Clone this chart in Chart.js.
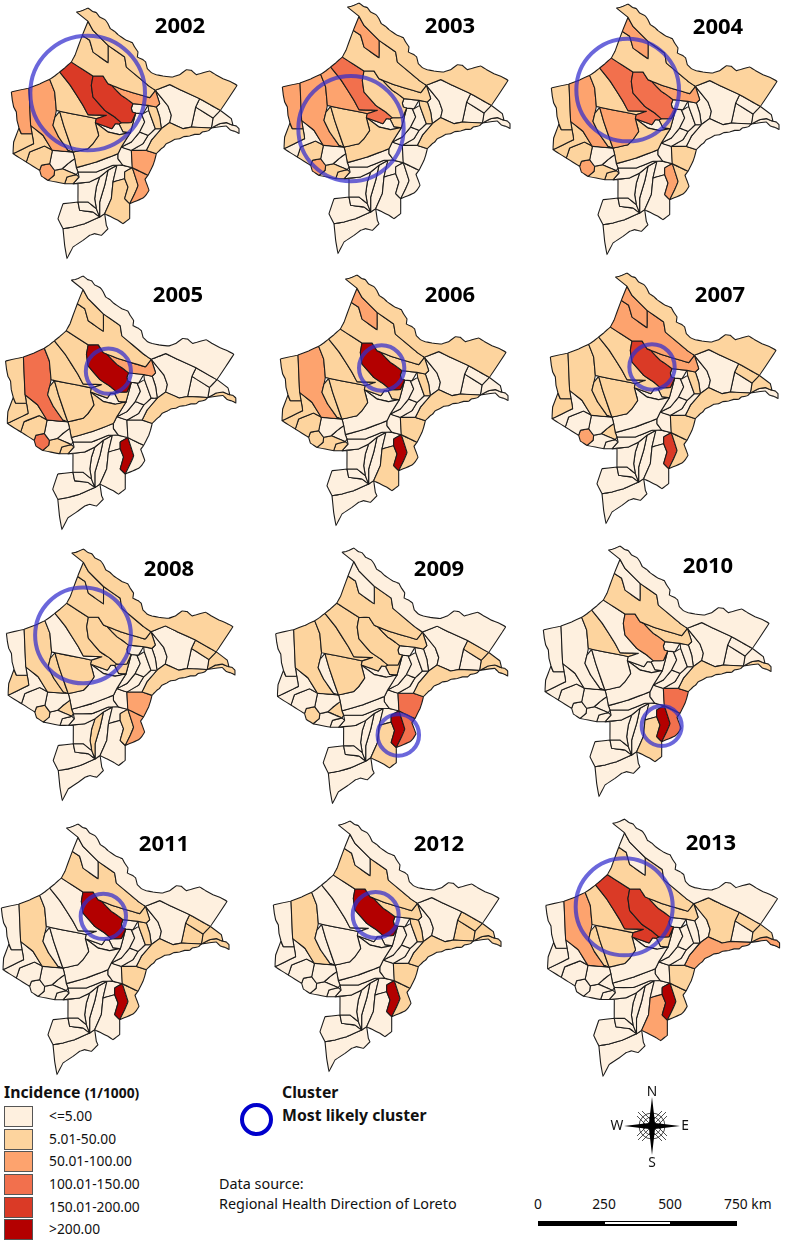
<!DOCTYPE html>
<html>
<head>
<meta charset="utf-8">
<title>Incidence by district, Loreto 2002-2013</title>
<script src="https://cdn.jsdelivr.net/npm/chart.js@4/dist/chart.umd.js"></script>
<style>
  html, body { margin: 0; padding: 0; background: #fff; }
  body { position: relative; width: 787px; height: 1243px; overflow: hidden; font-family: "Noto Sans", sans-serif; color: #111; }
  canvas { position: absolute; }
  .t { position: absolute; white-space: nowrap; line-height: 1; transform: translateY(-50%); }
  .year { font: bold 22px "Open Sans", sans-serif; color: #000; transform: translate(-50%, -50%); }
  .lg { font-size: 13.8px; }
  .src { font-size: 14.4px; }
  .b { font-weight: bold; font-size: 15.8px; color: #111; }
  .sw { position: absolute; left: 4px; width: 27px; height: 19px; border: 1px solid #555; }
  .mid { transform: translate(-50%, -50%); }
</style>
</head>
<body>
<script>
// years and legend
const years = [2002, 2003, 2004, 2005, 2006, 2007, 2008, 2009, 2010, 2011, 2012, 2013];
const classLabels = ['<=5.00', '5.01-50.00', '50.01-100.00', '100.01-150.00', '150.01-200.00', '>200.00'];
const classColors = ['#fef0df', '#fdd49e', '#fda36e', '#f2704d', '#da3a26', '#b30000'];

// district outlines (map units, y down)
const N1 = [[250,30],[262,28],[270,25],[285,18],[298,28],[310,32],[320,45],[335,52],[345,65],[352,80],[365,88],[375,98],[385,105],[400,115],[418,122],[425,135],[435,150],[433,165],[448,172],[458,180],[463,200],[475,212],[490,218],[510,222],[540,225],[560,218],[580,203],[595,205],[610,218],[630,212],[650,207],[668,218],[690,230],[710,238],[732,250],[682,325],[620,290],[565,265],[530,248],[487,265],[465,250],[400,195],[395,165],[345,130],[300,85],[285,58]];
const N2 = [[285,58],[300,85],[345,130],[345,182],[300,150],[290,115],[268,100]];
const N3 = [[268,100],[290,115],[300,150],[345,182],[345,130],[395,165],[400,195],[465,250],[487,265],[470,287],[395,265],[345,245],[330,222],[300,222],[235,180],[246,160],[255,135]];
const S = [[330,222],[345,245],[395,265],[470,287],[487,265],[500,305],[490,315],[465,310],[420,305],[408,296],[400,290],[385,280],[370,265]];
const M = [[300,222],[330,222],[370,265],[385,280],[400,290],[408,296],[420,305],[415,318],[418,330],[428,333],[415,362],[385,362],[365,345],[335,325],[300,285],[295,250]];
const W = [[200,210],[215,198],[235,180],[300,222],[295,250],[300,285],[335,325],[365,345],[385,362],[378,366],[367,365],[357,380],[307,362],[310,350],[340,340],[285,338],[270,310],[232,250]];
const W2 = [[170,232],[185,222],[200,210],[232,250],[270,310],[285,338],[340,340],[310,350],[272,342],[200,328],[190,325],[185,270]];
const C1 = [[200,328],[272,342],[310,350],[307,362],[317,400],[300,425],[285,440],[240,450],[212,370]];
const C2 = [[200,328],[212,370],[240,450],[225,445],[197,405],[180,370],[186,345]];
const WW = [[108,258],[140,246],[170,232],[185,270],[190,325],[186,345],[180,370],[197,405],[225,445],[240,450],[178,445],[150,400],[113,370]];
const WF = [[55,270],[108,258],[113,370],[117,395],[85,395],[78,378],[72,355],[70,330],[62,315],[58,295]];
const WS1 = [[85,395],[117,395],[122,425],[60,455],[62,420],[78,378]];
const WS2 = [[117,395],[113,370],[150,400],[178,445],[155,432],[110,450],[100,480],[60,455],[122,425]];
const WS3 = [[110,450],[155,432],[178,445],[170,485],[145,490],[140,505],[100,480]];
const WS4 = [[178,445],[240,450],[245,470],[225,485],[208,500],[185,505],[170,485]];
const WS5 = [[145,490],[170,485],[185,505],[183,520],[165,535],[145,522],[140,505]];
const WS6 = [[185,505],[208,500],[250,518],[222,525],[215,545],[165,535],[183,520]];
const WS7 = [[208,500],[225,485],[245,470],[250,497],[255,510],[250,518]];
const WS8 = [[215,545],[222,525],[250,518],[258,525],[240,545]];
const B1 = [[240,450],[285,440],[300,425],[317,400],[307,362],[345,390],[380,398],[412,392],[385,435],[375,455],[310,480],[250,497],[245,470]];
const K = [[307,362],[357,380],[367,365],[378,366],[390,390],[412,392],[380,398],[345,390]];
const L = [[378,366],[385,362],[415,362],[428,333],[412,392],[390,390]];
const D1 = [[420,305],[465,310],[450,335],[445,335],[428,333],[418,330],[415,318]];
const D2 = [[465,310],[490,315],[500,345],[505,380],[487,380],[467,325]];
const D3 = [[445,335],[450,335],[467,325],[487,380],[465,400],[440,390],[455,360]];
const D5 = [[428,333],[445,335],[455,360],[440,390],[415,420],[385,435],[412,392]];
const D6 = [[385,435],[415,420],[440,390],[465,400],[450,425],[415,445]];
const D7 = [[415,445],[450,425],[465,400],[487,380],[505,380],[475,415],[460,445]];
const ES = [[505,380],[530,362],[570,380],[595,375],[655,378],[648,385],[640,388],[628,390],[620,397],[605,397],[590,402],[572,404],[560,410],[545,412],[535,418],[520,425],[512,435],[505,440],[497,448],[490,455],[460,445],[475,415]];
const TL = [[655,378],[680,365],[700,362],[720,370],[730,372],[738,380],[738,395],[730,390],[725,388],[712,384],[700,372],[675,375]];
const E2 = [[487,265],[530,248],[565,265],[620,290],[608,315],[595,375],[570,380],[530,362],[535,340],[525,312]];
const E3 = [[487,265],[525,312],[535,340],[530,362],[505,380],[500,345],[490,315],[500,305]];
const E4A = [[620,290],[682,325],[660,348],[608,315]];
const E4B = [[608,315],[660,348],[655,378],[595,375]];
const E5 = [[682,325],[715,350],[720,370],[700,362],[680,365],[655,378],[660,348]];
const F1 = [[415,445],[460,445],[490,455],[485,475],[480,490],[470,510],[465,520],[418,497]];
const F2 = [[418,497],[465,520],[456,532],[462,548],[468,565],[460,578],[450,588],[432,596],[415,603],[410,605],[425,575],[435,550]];
const F3 = [[395,510],[418,497],[435,550],[425,575],[410,605],[395,590],[405,555],[395,530]];
const F4 = [[360,540],[395,530],[405,555],[395,590],[410,605],[410,650],[403,655],[390,665],[375,655],[355,645],[335,635],[355,590]];
const F5 = [[375,455],[385,435],[415,445],[418,497],[390,490],[375,470]];
const F6 = [[390,490],[418,497],[395,510],[395,530],[360,540],[372,490]];
const G0 = [[250,497],[310,480],[375,455],[375,470],[390,490],[372,490],[360,490],[310,510],[255,510]];
const G1 = [[255,510],[310,510],[360,490],[372,490],[345,505],[320,525],[290,540],[240,545],[258,525]];
const G2 = [[240,545],[290,540],[320,525],[310,555],[305,590],[310,620],[285,600],[255,600],[255,545]];
const G3 = [[320,525],[345,505],[335,550],[320,600],[320,645],[310,620],[305,590],[310,555]];
const G4 = [[345,505],[372,490],[360,540],[355,590],[335,635],[320,645],[320,600],[335,550]];
const H0 = [[255,600],[285,600],[310,620],[320,645],[300,630],[260,625]];
const H1 = [[210,605],[255,600],[260,625],[300,630],[320,645],[275,665],[240,675],[210,680],[195,650]];
const H2 = [[210,680],[240,675],[275,665],[320,645],[335,635],[340,670],[345,680],[325,700],[305,695],[290,700],[270,715],[240,735],[222,770],[215,730]];

const districts = [N1,N2,N3,S,M,W,W2,C1,C2,WW,WF,WS1,WS2,WS3,WS4,WS5,WS6,WS7,WS8,B1,K,L,D1,D2,D3,D5,D6,D7,ES,E2,E3,E4A,E4B,E5,F1,F2,F3,F4,F5,F6,G0,G1,G2,G3,G4,H0,H1,H2,TL];

// incidence class of each district, same order as districts
const class2002 = [1,1,1,2,4,4,1,1,1,2,2,1,1,1,0,2,1,0,1,1,0,1,0,1,0,0,0,0,1,0,0,0,0,0,2,2,1,1,0,0,0,0,0,0,0,0,0,0,0];
const class2003 = [1,2,1,1,1,3,2,1,1,2,2,1,0,1,0,2,1,0,1,1,0,1,0,1,0,0,0,0,1,0,0,0,0,0,0,0,0,0,0,0,0,0,0,0,0,0,0,0,0];
const class2004 = [1,2,1,2,3,3,1,2,1,2,1,1,1,1,0,2,1,0,1,1,0,1,0,0,0,0,0,0,0,0,0,0,0,0,1,1,2,0,0,0,0,0,0,0,0,0,0,0,0];
const class2005 = [0,1,1,2,5,1,1,1,1,3,1,1,1,1,0,3,1,0,1,1,0,1,0,0,0,0,0,0,1,0,0,0,0,0,0,0,5,0,0,0,0,0,0,0,0,0,0,0,1];
const class2006 = [1,2,1,1,5,1,1,1,1,2,1,1,1,1,0,1,1,0,1,0,0,1,0,1,0,0,0,0,1,0,0,0,0,0,1,1,5,1,0,0,0,0,0,0,0,0,0,0,0];
const class2007 = [1,2,2,2,4,1,1,1,1,1,1,1,0,0,0,2,0,1,0,0,0,1,0,1,0,0,0,0,1,0,0,1,0,1,1,1,4,0,0,0,0,0,0,0,0,0,0,0,0];
const class2008 = [1,1,1,1,1,1,0,1,1,1,0,1,0,0,0,1,0,1,0,0,0,1,0,0,0,0,0,0,1,0,0,1,0,1,2,2,1,0,0,0,0,0,0,1,0,0,0,0,1];
const class2009 = [0,0,1,1,1,1,1,1,0,1,0,0,0,0,0,1,0,1,0,0,0,1,0,0,0,0,0,0,1,0,0,1,0,1,3,3,5,1,0,0,0,0,0,0,0,0,0,0,1];
const class2010 = [0,0,1,1,2,0,1,0,0,0,0,0,0,0,0,0,0,0,0,0,0,0,0,0,0,0,0,0,1,0,0,0,0,0,3,3,5,1,0,0,0,0,0,0,0,0,0,0,1];
const class2011 = [0,0,1,1,5,0,0,0,0,1,0,0,0,0,0,0,0,0,0,0,0,0,0,1,0,0,0,0,1,0,0,1,1,1,1,1,5,0,0,0,0,0,0,0,0,0,0,0,1];
const class2012 = [0,0,1,1,5,0,0,0,0,1,0,0,0,0,0,0,0,0,0,0,0,0,0,1,0,0,0,0,1,0,0,1,1,1,1,1,5,0,0,0,0,0,0,0,0,0,0,0,1];
const class2013 = [0,0,1,1,4,4,1,1,1,2,0,0,0,0,0,0,0,0,0,0,0,1,0,0,0,0,0,0,2,1,0,1,0,1,1,1,5,2,0,0,0,0,0,0,0,0,0,0,2];
const yearClasses = [class2002,class2003,class2004,class2005,class2006,class2007,class2008,class2009,class2010,class2011,class2012,class2013];

// most likely cluster per year, map units
const clusterX = [284, 261, 284, 360, 359, 360, 284, 416, 410, 361, 362, 284];
const clusterY = [273, 395, 276, 300, 297, 300, 276, 568, 558, 295, 300, 274];
const clusterR = [172, 158, 154, 67, 68, 68, 143, 61, 60, 68, 69, 142];

// where each small map sits on the page
const panelLeft = [-7.3, 263.7, 533, -12.7, 262, 532.3, -12.3, 256.7, 525, -16.7, 255, 526.7];
const panelTop = [1.7, -3.3, -1.7, 270, 269.3, 267.3, 543.3, 541.7, 540, 818.3, 815, 813];
const panelScale = [1, 1, 1, 1.01, 1, 1, 1.005, 1.02, 1, 1, 1, 1.025];
const yearX = [180, 450, 718, 178, 450, 720, 169, 439, 708, 164, 439, 711];
const yearY = [24, 24, 25, 293, 293, 293, 567, 567, 564, 842, 842, 841];

function addText(text, x, y, cls) {
  const d = document.createElement('div');
  d.className = 't ' + cls;
  d.textContent = text;
  d.style.left = x + 'px';
  d.style.top = y + 'px';
  document.body.appendChild(d);
  return d;
}

years.forEach((year, i) => {
  const canvas = document.createElement('canvas');
  const size = Math.round(262 * panelScale[i]);
  canvas.width = size;
  canvas.height = size;
  canvas.style.left = panelLeft[i] + 'px';
  canvas.style.top = panelTop[i] + 'px';
  document.body.appendChild(canvas);

  const datasets = districts.map((shape, d) => ({
    data: shape.concat([shape[0]]).map(p => ({ x: p[0], y: p[1] })),
    borderColor: '#1c1c1c',
    borderWidth: 1.1,
    backgroundColor: classColors[yearClasses[i][d]],
    fill: 'shape',
    tension: 0.02,
    pointRadius: 0
  }));
  // first dataset is painted last, so the ring goes in front
  datasets.unshift({
    data: [{ x: clusterX[i], y: clusterY[i] }],
    showLine: false,
    clip: false,
    pointRadius: clusterR[i] / 3 * panelScale[i],
    pointBorderWidth: 4,
    pointBorderColor: 'rgba(50,45,205,0.72)',
    pointBackgroundColor: 'transparent'
  });

  new Chart(canvas, {
    type: 'line',
    data: { datasets: datasets },
    options: {
      responsive: false,
      animation: false,
      layout: { padding: 0, autoPadding: false },
      plugins: { legend: { display: false }, tooltip: { enabled: false }, title: { display: false } },
      scales: {
        x: { type: 'linear', min: 0, max: 786, display: false },
        y: { type: 'linear', min: 0, max: 786, reverse: true, display: false }
      }
    }
  });

  addText(year, yearX[i], yearY[i], 'year');
});

// legend
const legendTitle = addText('Incidence ', 4, 1093, 'b');
const legendUnit = document.createElement('span');
legendUnit.textContent = '(1/1000)';
legendUnit.style.fontSize = '13.8px';
legendTitle.appendChild(legendUnit);
const legendTop = [1106, 1129, 1151, 1174, 1197, 1219];
classLabels.forEach((label, i) => {
  const sw = document.createElement('div');
  sw.className = 'sw';
  sw.style.top = legendTop[i] + 'px';
  sw.style.background = classColors[i];
  document.body.appendChild(sw);
  addText(label, 49, legendTop[i] + 10, 'lg');
});

addText('Cluster', 282, 1093, 'b');
addText('Most likely cluster', 282, 1116, 'b');
addText('Data source:', 219, 1184, 'src');
addText('Regional Health Direction of Loreto', 219, 1204, 'src');

// scale bar labels
[['0', 538], ['250', 604], ['500', 670]].forEach(s => addText(s[0], s[1], 1204, 'lg mid'));
addText('750 km', 724, 1204, 'lg');

// compass letters
[['N', 652, 1091], ['S', 652, 1162], ['W', 617, 1125], ['E', 685, 1125]].forEach(s => addText(s[0], s[1], s[2], 'lg mid'));
</script>

<div style="position:absolute;left:240px;top:1103px;width:25px;height:25px;border:4px solid #0000cc;border-radius:50%;"></div>

<div style="position:absolute;left:537.5px;top:1220.5px;width:199.5px;height:5px;background:#000;"></div>
<div style="position:absolute;left:605px;top:1222px;width:65px;height:2.4px;background:#fff;"></div>

<svg style="position:absolute;left:612px;top:1086px;" width="80" height="80" viewBox="-40 -40 80 80">
  <g fill="none" stroke="#222" stroke-width="0.8">
    <circle r="13"/>
    <circle r="9"/>
    <path d="M-14-14L14 14M-14 14L14-14M-10-15L15 10M-15-10L10 15M10-15L-15 10M15-10L-10 15"/>
  </g>
  <path fill="#000" d="M0-29L3-3L28 0L3 3L0 29L-3 3L-28 0L-3-3Z"/>
</svg>
</body>
</html>
